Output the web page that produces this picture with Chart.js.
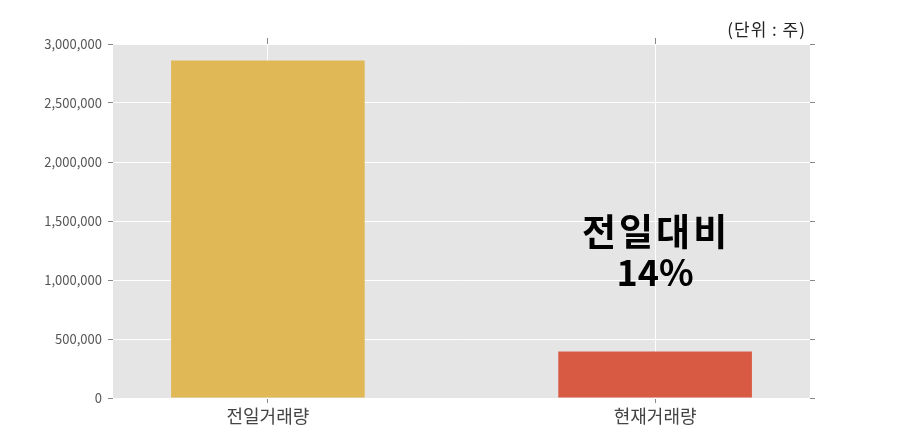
<!DOCTYPE html>
<html>
<head>
<meta charset="utf-8">
<script src="https://cdn.jsdelivr.net/npm/chart.js@4/dist/chart.umd.min.js"></script>
<style>
  html, body { margin: 0; padding: 0; background: #fff; }
  #wrap { width: 900px; height: 443px; }
</style>
</head>
<body>
<div id="wrap"><canvas id="myChart"></canvas></div>
<script>
const categories = ["전일거래량", "현재거래량"];
const volumes = [2860000, 395000];
const barColors = ["#e0b856", "#d95a42"];
const yTicks = [0, 500000, 1000000, 1500000, 2000000, 2500000, 3000000];
const unitText = "(단위 : 주)";
const noteLines = ["전일대비", "14%"];

const FONT = "'Noto Sans CJK KR', 'Noto Sans', sans-serif";

function catTicks(axis){
    axis.ticks = categories.map((c, i) => ({ value: i }));
}

const bgPlugin = {
    id: "bg",
    beforeDraw(chart){
        const a = chart.chartArea;
        const ctx = chart.ctx;
        ctx.save();
        ctx.fillStyle = "#e5e5e5";
        ctx.fillRect(a.left, a.top, a.right - a.left, a.bottom - a.top);
        ctx.restore();
    }
};

const textPlugin = {
    id: "texts",
    afterDraw(chart){
        const ctx = chart.ctx;
        const a = chart.chartArea;
        const x = chart.scales.x;
        const y = chart.scales.y;
        ctx.save();
        // unit label
        ctx.font = "17px " + FONT;
        ctx.fillStyle = "#222";
        ctx.textAlign = "right";
        ctx.textBaseline = "alphabetic";
        ctx.letterSpacing = "1px";
        ctx.fillText(unitText, a.right - 4, a.top - 8);
        // note
        ctx.fillStyle = "#000";
        ctx.textAlign = "center";
        ctx.textBaseline = "middle";
        const cx = x.getPixelForValue(1);
        const mid = y.getPixelForValue(1250000);
        ctx.font = "bold 37px " + FONT;
        ctx.letterSpacing = "3px";
        ctx.fillText(noteLines[0], cx + 1, mid - 19);
        ctx.font = "bold 36px " + FONT;
        ctx.letterSpacing = "0px";
        ctx.fillText(noteLines[1], cx, mid + 22);
        ctx.restore();
    }
};

const data = {
    datasets: [{
        data: volumes.map((v, i) => ({ x: i, y: v })),
        backgroundColor: barColors,
        barPercentage: 0.5,
        categoryPercentage: 1.0,
        borderWidth: 0
    }]
};

const config = {
    type: "bar",
    data: data,
    plugins: [bgPlugin, textPlugin],
    options: {
        responsive: true,
        maintainAspectRatio: false,
        animation: false,
        layout: { padding: 0 },
        plugins: {
            legend: { display: false },
            tooltip: { enabled: false }
        },
        scales: {
            x: {
                type: "linear",
                position: "bottom",
                min: -0.4,
                max: 1.4,
                offset: false,
                afterBuildTicks: catTicks,
                afterFit: (s) => { s.height = 45; },
                border: { display: false },
                grid: {
                    offset: false,
                    color: "#ffffff",
                    tickColor: "#888",
                    tickLength: 5
                },
                ticks: {
                    padding: 2,
                    color: "#444",
                    font: { family: FONT, size: 18 },
                    callback: (v) => categories[v]
                }
            },
            xTop: {
                type: "linear",
                position: "top",
                min: -0.4,
                max: 1.4,
                offset: false,
                afterBuildTicks: catTicks,
                afterFit: (s) => { s.height = 44; },
                border: { display: false },
                grid: {
                    offset: false,
                    drawOnChartArea: false,
                    tickColor: "#888",
                    tickLength: 6
                },
                ticks: { display: false }
            },
            y: {
                type: "linear",
                position: "left",
                min: 0,
                max: 3000000,
                afterBuildTicks: (axis) => { axis.ticks = yTicks.map(v => ({ value: v })); },
                afterFit: (s) => { s.width = 113; },
                border: { display: false },
                grid: {
                    color: "#ffffff",
                    tickColor: "#888",
                    tickLength: 5
                },
                ticks: {
                    padding: 6,
                    color: "#555",
                    font: { family: FONT, size: 13 },
                    callback: (v) => v.toLocaleString("en-US")
                }
            },
            yRight: {
                type: "linear",
                position: "right",
                min: 0,
                max: 3000000,
                afterBuildTicks: (axis) => { axis.ticks = yTicks.map(v => ({ value: v })); },
                afterFit: (s) => { s.width = 90; },
                border: { display: false },
                grid: {
                    drawOnChartArea: false,
                    tickColor: "#888",
                    tickLength: 5
                },
                ticks: { display: false }
            }
        }
    }
};

const ctx = document.getElementById("myChart").getContext("2d");
new Chart(ctx, config);
</script>
</body>
</html>
